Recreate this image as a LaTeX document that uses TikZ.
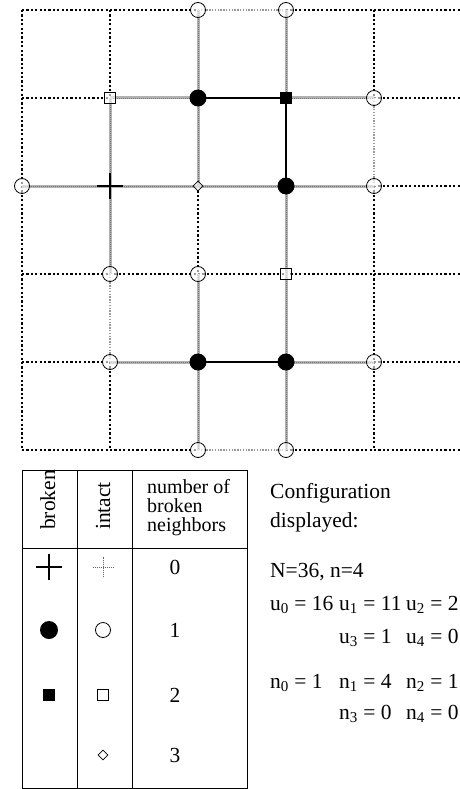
\documentclass[tikz,border=0pt]{standalone}
\usepackage{fontspec}
\setmainfont{Liberation Serif}
\usetikzlibrary{shapes.geometric,shapes.misc}

\begin{document}
\begin{tikzpicture}[x=1pt,y=-1pt,
	font=\fontsize{21.5}{26}\selectfont,
	grid/.style={line width=2.6pt,dash pattern=on 2.2pt off 2.2pt},
	soft/.style={draw=gray!80,line width=1.2pt,dash pattern=on 1.3pt off 1.5pt,
		preaction={draw=white,solid,line width=3.2pt}},
	half/.style={draw=gray!60,line width=3pt,
		postaction={draw=black!55,line width=.7pt,dash pattern=on 1pt off 1pt}},
	bond/.style={line width=2.6pt},
	bdot/.style={circle,fill=black,minimum size=17pt,inner sep=0pt},
	bbox/.style={rectangle,fill=black,minimum size=11.5pt,inner sep=0pt},
	bplus/.style={cross out,draw,rotate=45,line width=2.4pt,minimum size=15.5pt,inner sep=0pt},
	odot/.style={circle,draw,fill=white,fill opacity=.6,line width=.8pt,minimum size=15pt,inner sep=0pt},
	obox/.style={rectangle,draw,fill=white,fill opacity=.6,line width=.8pt,minimum size=11pt,inner sep=0pt},
	odia/.style={diamond,draw,fill=white,fill opacity=.6,line width=.8pt,minimum size=10pt,inner sep=0pt},
	oplus/.style={cross out,draw=black!60,rotate=45,line width=.7pt,dash pattern=on 1pt off 1pt,minimum size=14pt,inner sep=0pt}]
	\useasboundingbox(0,0)rectangle(459,789);

	% lattice sites, 6 x 6
	\foreach \i in {0,...,5}
		\foreach \j in {0,...,5}
			\coordinate(c\i\j)at(22+88*\i,10+88*\j);

	% intact-intact bonds
	\foreach \i/\k in {0/1,1/2,2/3,3/4,4/5}
		\foreach \j in {0,...,5}{
			\draw[grid](c\i\j)--(c\k\j);
			\draw[grid](c\j\i)--(c\j\k);
		}
	\foreach \a/\b in {20/30,25/35,41/42,13/14}
		\draw[soft](c\a)--(c\b);

	% broken-intact bonds
	\foreach \a/\b in {21/20,21/11,21/22,31/30,31/41,32/22,32/42,32/33,12/11,12/02,12/22,12/13,
		24/14,24/23,24/25,34/33,34/44,34/35}
		\draw[half](c\a)--(c\b);

	% broken-broken bonds
	\draw[bond](c21)--(c31)--(c32);
	\draw[bond](c24)--(c34);

	% sites
	\foreach \p in {21,32,24,34}\node[bdot](b\p)at(c\p){};
	\node[bbox](b31)at(c31){};
	\node[bplus](b12)at(c12){};
	\foreach \p in {20,30,41,02,42,13,23,14,44,25,35}\node[odot](u\p)at(c\p){};
	\foreach \p in {11,33}\node[obox](u\p)at(c\p){};
	\node[odia](u22)at(c22){};

	% legend table
	\draw[line width=.7pt](22,470)rectangle(247,788);
	\draw[line width=.7pt](22,548)--(247,548);
	\draw[line width=.7pt](77,470)--(77,788);
	\draw[line width=.7pt](132,470)--(132,788);
	\node[rotate=90,anchor=base west,inner sep=0pt](hbroken)at(55,530){broken};
	\node[rotate=90,anchor=base west,inner sep=0pt](hintact)at(110,530){intact};
	\node[align=left,anchor=west,inner sep=0pt,font=\fontsize{20}{19}\selectfont](hcount)
		at(147,508){number of\\broken\\neighbors};

	\node[bplus](k0)at(49,567){};
	\node[bdot,minimum size=18pt](k1)at(49,630){};
	\node[bbox,minimum size=12pt](k2)at(49,695){};
	\node[oplus](i0)at(103,567){};
	\node[odot](i1)at(103,630){};
	\node[obox](i2)at(103,695){};
	\node[odia](i3)at(103,755){};
	\node(num0)at(175,567){0};
	\node(num1)at(175,630){1};
	\node(num2)at(175,695){2};
	\node(num3)at(175,755){3};

	% configuration counts
	\tikzset{every node/.style={anchor=base west,inner sep=0pt}}
	\node(conf)at(270,498){Configuration};
	\node(disp)at(270,527){displayed:};
	\node(size)at(270,577){N=36, n=4};
	\node(cu0)at(270,610){u\textsubscript{0} = 16};
	\node(cu1)at(339,610){u\textsubscript{1} = 11};
	\node(cu2)at(406,610){u\textsubscript{2} = 2};
	\node(cu3)at(339,643){u\textsubscript{3} = 1};
	\node(cu4)at(406,643){u\textsubscript{4} = 0};
	\node(cn0)at(270,688){n\textsubscript{0} = 1};
	\node(cn1)at(339,688){n\textsubscript{1} = 4};
	\node(cn2)at(406,688){n\textsubscript{2} = 1};
	\node(cn3)at(339,719){n\textsubscript{3} = 0};
	\node(cn4)at(406,719){n\textsubscript{4} = 0};
\end{tikzpicture}
\end{document}
